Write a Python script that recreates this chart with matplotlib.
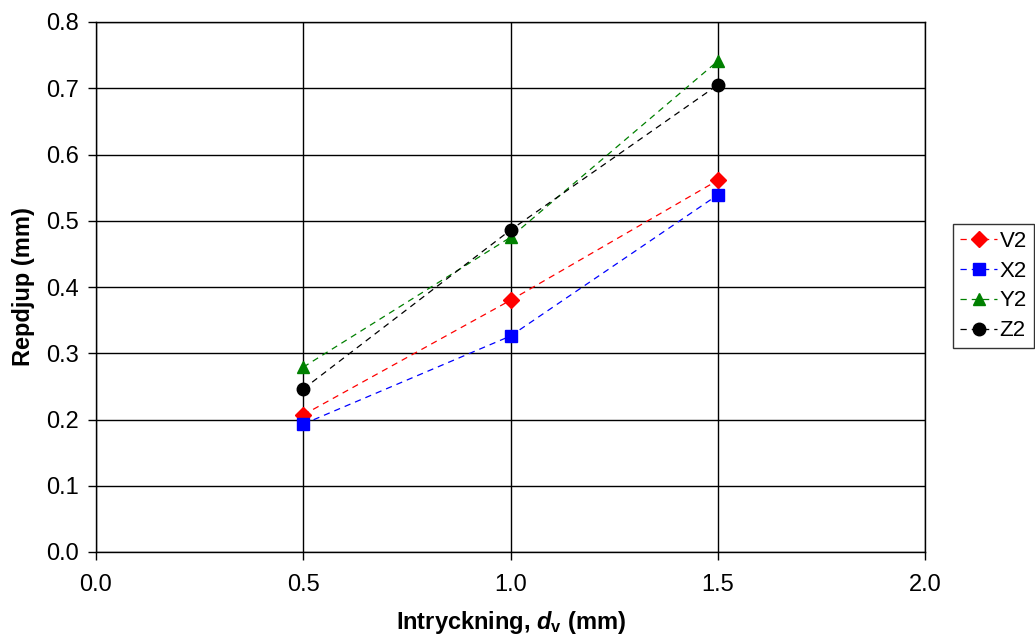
import matplotlib
matplotlib.use("Agg")
import matplotlib.pyplot as plt

plt.rcParams['font.family'] = ['Liberation Sans', 'DejaVu Sans']
plt.rcParams['mathtext.fontset'] = 'custom'
plt.rcParams['mathtext.it'] = 'Liberation Sans:bold:italic'
plt.rcParams['mathtext.rm'] = 'Liberation Sans:bold'

x = [0.5, 1.0, 1.5]
v2 = [0.207, 0.380, 0.561]
x2 = [0.193, 0.326, 0.539]
y2 = [0.279, 0.475, 0.741]
z2 = [0.246, 0.486, 0.705]

series = [
    ("V2", v2, "red", "D", 8),
    ("X2", x2, "blue", "s", 8.5),
    ("Y2", y2, "green", "^", 9),
    ("Z2", z2, "black", "o", 9),
]

fig = plt.figure(figsize=(10.35, 6.41), dpi=100)
ax = fig.add_axes([96/1035, 1-552/641, (925-96)/1035, (552-22)/641])

for name, vals, col, mk, ms in series:
    ax.plot(x, vals, linestyle=(0, (5, 4)), color=col, lw=0.9, marker=mk,
            markersize=ms, markerfacecolor=col, markeredgecolor=col, label=name,
            clip_on=False, zorder=3)

ax.set_xlim(0, 2.0)
ax.set_ylim(0, 0.8)
ax.set_xticks([0.0, 0.5, 1.0, 1.5, 2.0])
ax.set_yticks([i/10 for i in range(9)])
ax.set_xticklabels([f"{t:.1f}" for t in [0.0, 0.5, 1.0, 1.5, 2.0]])
ax.set_yticklabels([f"{i/10:.1f}" for i in range(9)])
ax.grid(True, color='black', lw=1)
ax.set_axisbelow(True)
for s in ['top', 'right', 'left', 'bottom']:
    ax.spines[s].set_color('black')
    ax.spines[s].set_linewidth(1)
ax.tick_params(direction='out', length=5.5, width=1, labelsize=17, colors='black')
ax.tick_params(axis='x', pad=10)
ax.tick_params(axis='y', pad=7)

ax.set_xlabel(r'Intryckning, $d_{\mathrm{v}}$ (mm)', fontsize=17, fontweight='bold', labelpad=10)
ax.set_ylabel('Repdjup (mm)', fontsize=17, fontweight='bold', labelpad=8)

leg = ax.legend(loc='center left', bbox_to_anchor=(953/1035, 1-286/641),
                bbox_transform=fig.transFigure, fontsize=16, frameon=True,
                fancybox=False, edgecolor='black', handlelength=1.7,
                handletextpad=0.1, borderpad=0.3, labelspacing=0.4, borderaxespad=0)
leg.get_frame().set_linewidth(1)

fig.savefig("out.png", dpi=100)
